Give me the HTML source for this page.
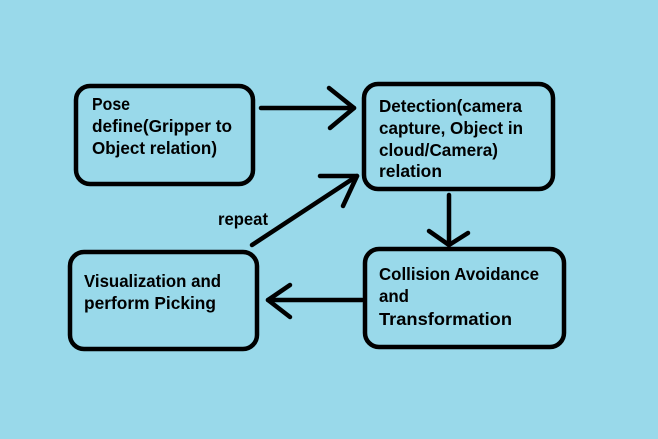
<!DOCTYPE html>
<html><head><meta charset="utf-8"><style>
html,body{margin:0;padding:0;background:#99d9ea;}
svg{display:block}
text{font-family:"Liberation Sans",sans-serif;font-weight:bold;font-size:17.5px;fill:#000}
</style></head><body>
<svg width="658" height="439" viewBox="0 0 658 439" xmlns="http://www.w3.org/2000/svg">
<rect width="658" height="439" fill="#99d9ea"/>
<g fill="none" stroke="#000" stroke-width="4.5" stroke-linecap="round" stroke-linejoin="round">
<rect x="76" y="86" width="177" height="98" rx="14"/>
<rect x="364" y="84" width="189" height="105" rx="14"/>
<rect x="365" y="249" width="199" height="98" rx="14"/>
<rect x="70" y="252" width="187" height="97" rx="14"/>
<line x1="261" y1="108" x2="354" y2="108"/>
<polyline points="329,88 354,108 330,128"/>
<line x1="449" y1="195" x2="449" y2="245"/>
<polyline points="429,231 449,245 468,233"/>
<line x1="362" y1="300" x2="268" y2="300"/>
<polyline points="290,285 268,300 290,317"/>
<line x1="252" y1="245" x2="357" y2="176"/>
<polyline points="320,176 357,176 343,206"/>
</g>
<g lengthAdjust="spacingAndGlyphs">
<text x="92" y="110" textLength="38" lengthAdjust="spacingAndGlyphs">Pose</text>
<text x="92" y="132" textLength="140" lengthAdjust="spacingAndGlyphs">define(Gripper to</text>
<text x="92" y="154" textLength="125" lengthAdjust="spacingAndGlyphs">Object relation)</text>
<text x="379" y="112" textLength="143" lengthAdjust="spacingAndGlyphs">Detection(camera</text>
<text x="379" y="134" textLength="144" lengthAdjust="spacingAndGlyphs">capture, Object in</text>
<text x="379" y="156" textLength="119" lengthAdjust="spacingAndGlyphs">cloud/Camera)</text>
<text x="379" y="177" textLength="63" lengthAdjust="spacingAndGlyphs">relation</text>
<text x="218" y="225" textLength="50" lengthAdjust="spacingAndGlyphs">repeat</text>
<text x="379" y="280" textLength="160" lengthAdjust="spacingAndGlyphs">Collision Avoidance</text>
<text x="379" y="302" textLength="30" lengthAdjust="spacingAndGlyphs">and</text>
<text x="379" y="325" textLength="133" lengthAdjust="spacingAndGlyphs">Transformation</text>
<text x="84" y="287" textLength="137" lengthAdjust="spacingAndGlyphs">Visualization and</text>
<text x="84" y="309" textLength="132" lengthAdjust="spacingAndGlyphs">perform Picking</text>
</g>
</svg>
</body></html>
